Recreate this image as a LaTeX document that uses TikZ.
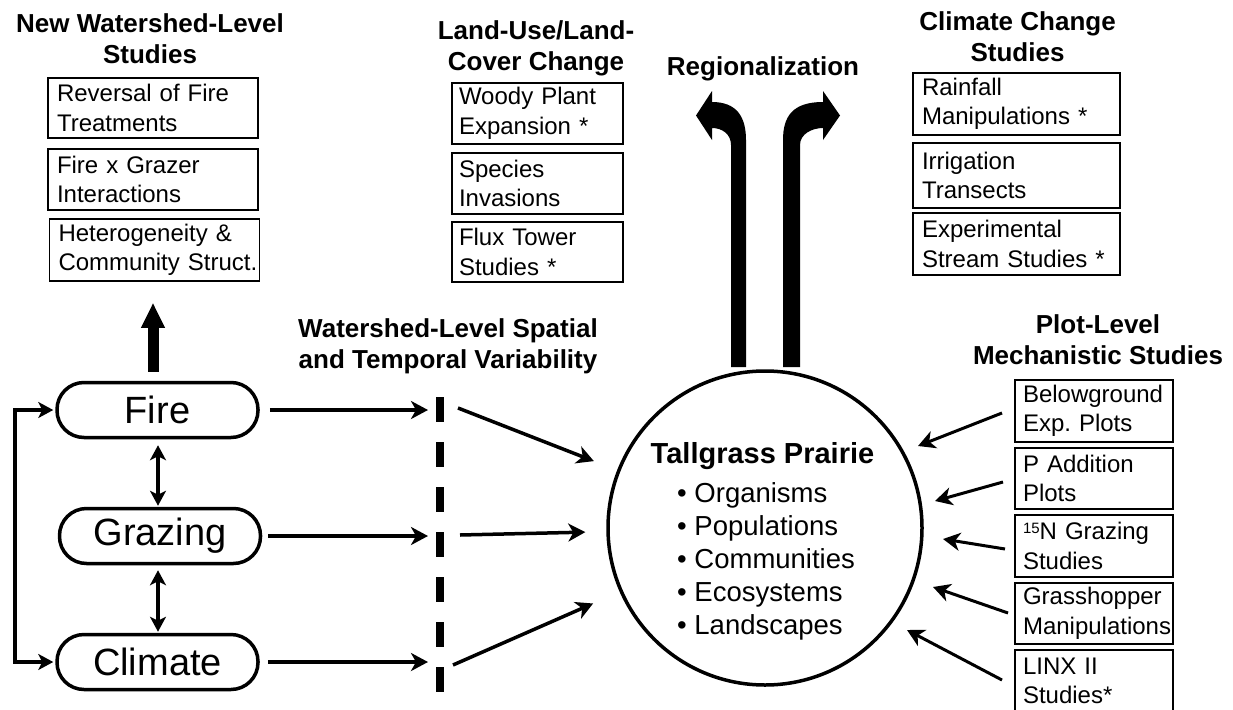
\documentclass[tikz,border=0pt]{standalone}
\usepackage{fontspec}
\setmainfont{Liberation Sans}
\usetikzlibrary{arrows.meta}
\newcommand\bxfont{\fontsize{24}{29.5}\selectfont\frenchspacing}
\newcommand\hdfont{\fontsize{26}{31}\selectfont\bfseries}
\newcommand\pillfont{\fontsize{38}{44}\selectfont}
\newcommand\bulfont{\fontsize{27.5}{33}\selectfont}
\begin{document}
\begin{tikzpicture}[x=1pt,y=-1pt,
  sbox/.style={draw, line width=1.5pt, align=left, font=\bxfont, inner ysep=0pt},
  lbox/.style={sbox, text width=192pt, inner xsep=9pt, minimum height=#1},
  ubox/.style={sbox, text width=157pt, inner xsep=7pt, minimum height=#1},
  cbox/.style={sbox, text width=189pt, inner xsep=9pt, minimum height=#1},
  pbox/.style={sbox, text width=142pt, inner xsep=8pt, minimum height=#1},
  hd/.style={font=\hdfont, align=center, inner sep=0pt},
  pill/.style={draw, line width=3.5pt, rounded corners=27pt, minimum width=201pt, minimum height=55pt, inner sep=0pt, font=\pillfont},
  arr/.style={line width=3.5pt, -{Stealth[length=17pt,width=18pt,inset=5pt]}},
  parr/.style={line width=3pt, -{Stealth[length=17pt,width=18pt,inset=5pt]}},
  dbl/.style={line width=3.5pt, {Stealth[length=15pt,width=16pt,inset=4pt]}-{Stealth[length=15pt,width=16pt,inset=4pt]}},
  big/.style={line width=11pt, -{Triangle[length=25pt,width=22pt]}},
  bul/.style={font=\bulfont, inner sep=0pt, anchor=base west}
]
\useasboundingbox (0,0) rectangle (1233,709);

% headings
\node[hd] (hnws) at (150,38.5) {New Watershed-Level\\Studies};
\node[hd] (hlu) at (536,48) {Land-Use/Land-\\Cover Change};
\node[hd, anchor=base] (hreg) at (763,75) {Regionalization};
\node[hd] (hcc) at (1017.5,36.5) {Climate Change\\Studies};
\node[hd] (hws) at (448,346) {Watershed-Level Spatial\\and Temporal Variability};
\node[hd] (hpl) at (1098,339.5) {Plot-Level\\Mechanistic Studies};

% left boxes
\node[lbox=60pt] (h1) at (153,108) {Reversal of Fire\\Treatments};
\node[lbox=61pt] (h2) at (153,179.5) {Fire x Grazer\\Interactions};
\node[lbox=62pt] (h3) at (154.5,250) {Heterogeneity \&\\\mbox{Community Struct.}};

% land-use boxes
\node[ubox=61pt] (l1) at (537.5,113.5) {Woody Plant\\Expansion *};
\node[ubox=61pt] (l2) at (537.5,183.5) {Species\\Invasions};
\node[ubox=60pt] (l3) at (537.5,252) {Flux Tower\\Studies *};

% climate change boxes
\node[cbox=62pt] (c1) at (1016.5,104) {Rainfall\\Manipulations *};
\node[cbox=65pt] (c2) at (1016.5,175.5) {Irrigation\\Transects};
\node[cbox=62pt] (c3) at (1016.5,244) {Experimental\\Stream Studies *};

% plot-level boxes
\node[pbox=62pt] (p1) at (1094,411) {Belowground\\Exp. Plots};
\node[pbox=61pt] (p2) at (1094,478.5) {P Addition\\Plots};
\node[pbox=62pt] (p3) at (1094,546) {\raisebox{6.5pt}{\fontsize{15}{15}\selectfont 15}N Grazing\\Studies};
\node[pbox=61pt] (p4) at (1094,613.5) {Grasshopper\\\mbox{Manipulations}};
\node[pbox=62pt] (p5) at (1094,681) {LINX II\\Studies*};

% drivers
\node[pill] (fire) at (157.5,410) {Fire};
\node[pill] (grazing) at (160,536) {Grazing};
\node[pill] (climate) at (157.5,662) {Climate};

% central circle
\node[circle, draw, line width=3.5pt, minimum size=314pt, inner sep=0pt] (tp) at (765,528) {};
\node[font=\fontsize{29}{34}\selectfont\bfseries, anchor=base, inner sep=0pt] (ttl) at (762.5,463) {Tallgrass Prairie};
\foreach \t [count=\i] in {Organisms,Populations,Communities,Ecosystems,Landscapes}
  \node[bul] (b\i) at (677,{502+33*(\i-1)}) {•\ \t};

% dashed boundary
\coordinate (dtop) at (440,397);
\coordinate (dbot) at (440,692);
\draw[line width=7.5pt, dash pattern=on 25pt off 20pt] (dtop) -- (dbot);

% drivers to dashed line
\draw[arr, shorten <=10pt, shorten >=12pt] (fire.east) -- (fire.east -| dtop);
\draw[arr, shorten <=6pt, shorten >=12pt] (grazing.east) -- (grazing.east -| dtop);
\draw[arr, shorten <=8pt, shorten >=12pt] (climate.east) -- (climate.east -| dtop);

% dashed line to prairie
\coordinate (s1) at (458,408);
\coordinate (s2) at (460,535);
\coordinate (s3) at (453,665);
\draw[arr, shorten >=25pt] (s1) -- (tp);
\draw[arr, shorten >=21pt] (s2) -- (tp);
\draw[arr, shorten >=29pt] (s3) -- (tp);

% interactions among drivers
\draw[dbl, shorten <=6pt, shorten >=1pt] ([xshift=0.5pt]fire.south) -- ([xshift=-2pt]grazing.north);
\draw[dbl, shorten <=5pt, shorten >=1pt] ([xshift=-2pt]grazing.south) -- ([xshift=0.5pt]climate.north);
\draw[dbl, shorten <=2pt, shorten >=2pt] (fire.west) -- ++(-40.5,0) |- (climate.west);

% fire to new watershed studies
\draw[big] ([xshift=-4.5pt,yshift=9pt]fire.north) -- ([xshift=-1.5pt,yshift=-21pt]h3.south);

% plot-level studies to prairie
\coordinate (r1) at (918,446);
\coordinate (r2) at (935,501);
\coordinate (r3) at (943,539);
\coordinate (r4) at (933,587);
\coordinate (r5) at (907,630);
\draw[parr] ([xshift=-12.25pt,yshift=-2pt]p1.west) -- (r1);
\draw[parr] ([xshift=-11.25pt,yshift=-3.5pt]p2.west) -- (r2);
\draw[parr] ([xshift=-9.25pt,yshift=-3pt]p3.west) -- (r3);
\draw[parr] ([xshift=-6.25pt,yshift=0.5pt]p4.west) -- (r4);
\draw[parr] ([xshift=-12.25pt,yshift=1pt]p5.west) -- (r5);

% regionalization bent arrows
\fill (746,367) -- (746,140) .. controls (746,116) and (736,102) .. (712,102)
  -- (712,91) -- (696,115.5) -- (712,140) -- (712,128)
  .. controls (722,128) and (731,134) .. (731,145) -- (731,367) -- cycle;
\fill (783,367) -- (783,140) .. controls (783,116) and (793,102) .. (823,102)
  -- (823,91) -- (840,115.5) -- (823,140) -- (823,128)
  .. controls (812,128) and (800,134) .. (800,145) -- (800,367) -- cycle;
\end{tikzpicture}
\end{document}
